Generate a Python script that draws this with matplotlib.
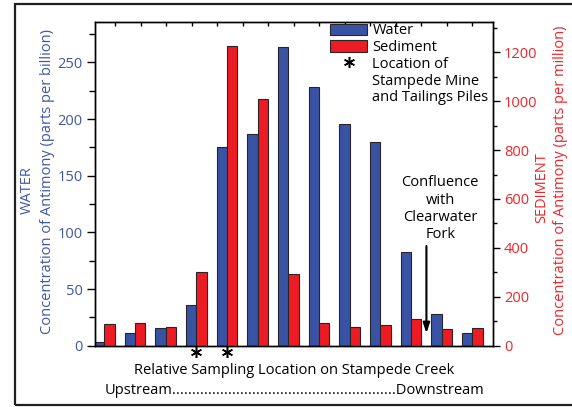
import numpy as np
import matplotlib
matplotlib.use("Agg")
import matplotlib.pyplot as plt
from matplotlib.patches import Patch, Rectangle
from matplotlib.lines import Line2D
import matplotlib.transforms as mtransforms

# ---- data ----
water = [3, 11, 16, 36, 175, 187, 264, 228, 196, 180, 83, 28, 11]          # ppb
sediment = [89, 94, 77, 301, 1227, 1009, 292, 93, 78, 86, 109, 67, 72]     # ppm
mine_sites = [3, 4]          # sampling locations marked with *
confluence_site = 10.5       # between locations 11 and 12
left_ticks = [0, 50, 100, 150, 200, 250]
right_ticks = [0, 200, 400, 600, 800, 1000, 1200]

BLUE = "#3953A4"
RED = "#ED1C24"
TBLUE = "#3F57A6"
TRED = "#EE2529"
EDGE = "#2A2426"

plt.rcParams['font.family'] = ['Open Sans', 'DejaVu Sans']
FS = 10.5

fig = plt.figure(figsize=(5.72, 4.07), dpi=100)
ax = fig.add_axes([95/572, 1-345.7/407, 398/572, 324/407])
ax2 = ax.twinx()

x = np.arange(len(water))
w = 0.336
ax.bar(x - w/2, water, width=w, color=BLUE, edgecolor=EDGE, linewidth=0.8, zorder=2)
ax2.bar(x + w/2, sediment, width=w, color=RED, edgecolor=EDGE, linewidth=0.8, zorder=2)

ax.set_xlim(-0.303, 12.67)
ax.set_ylim(0, 286)
ax2.set_ylim(0, 1325)

ax.set_yticks(left_ticks)
ax.set_yticks(np.arange(25, 286, 50), minor=True)
ax2.set_yticks(right_ticks)
ax2.set_yticks(np.arange(100, 1325, 200), minor=True)

ax.tick_params(axis='y', which='major', direction='out', length=6, width=1, labelsize=FS,
               labelcolor=TBLUE, pad=3)
ax.tick_params(axis='y', which='minor', direction='out', length=4, width=1)
ax2.tick_params(axis='y', which='major', direction='out', length=5, width=1, labelsize=FS,
                labelcolor=TRED, pad=3)
ax2.tick_params(axis='y', which='minor', direction='out', length=3, width=1)

ax.set_xticks(np.linspace(0.35, 12.0, 15))
ax.tick_params(axis='x', bottom=False, top=True, labelbottom=False, direction='in',
               length=3, width=1)
ax2.tick_params(axis='x', bottom=False, top=False, labelbottom=False)

for a in (ax, ax2):
    for s in a.spines.values():
        s.set_linewidth(1.0)
        s.set_color('black')

# asterisks marking the mine
trans = mtransforms.blended_transform_factory(ax.transData, ax.transAxes)
ax.plot(mine_sites, [-0.02] * len(mine_sites), linestyle='none', marker=(6, 2, 0),
        markersize=8, markeredgewidth=1.1, color='black', transform=trans, clip_on=False)

# confluence annotation
ax.annotate('', xy=(confluence_site, 11), xytext=(confluence_site, 88),
            arrowprops=dict(arrowstyle='-|>,head_length=0.6,head_width=0.2',
                            color='black', lw=1.5, shrinkA=0, shrinkB=0))
ax.text(10.95, 121, "Confluence\nwith\nClearwater\nFork", ha='center', va='center',
        fontsize=FS, linespacing=1.2)

# legend
blank = Line2D([], [], linestyle='none', marker='none')
handles = [Patch(facecolor=BLUE, edgecolor=EDGE, linewidth=0.8),
           Patch(facecolor=RED, edgecolor=EDGE, linewidth=0.8),
           Line2D([], [], linestyle='none', marker=(6, 2, 0), markersize=8,
                  markeredgewidth=1.1, color='black'),
           blank, blank]
labels = ["Water", "Sediment", "Location of", "Stampede Mine", "and Tailings Piles"]
ax2.legend(handles, labels, loc='upper left', bbox_to_anchor=((330-95)/398, 0.995),
           frameon=False, fontsize=FS, handlelength=2.55, handleheight=0.8,
           handletextpad=0.35, labelspacing=0.12, borderpad=0, borderaxespad=0)

# axis labels (each line as its own text)
fig.text(27.5/572, 1-190/407, "WATER", rotation=90, ha='center', va='center',
         color=TBLUE, fontsize=FS)
fig.text(47.5/572, 1-181/407, "Concentration of Antimony (parts per billion)",
         rotation=90, ha='center', va='center', color=TBLUE, fontsize=FS)
fig.text(542/572, 1-188/407, "SEDIMENT", rotation=90, ha='center', va='center',
         color=TRED, fontsize=FS)
fig.text(561/572, 1-180/407, "Concentration of Antimony (parts per million)",
         rotation=90, ha='center', va='center', color=TRED, fontsize=FS)
fig.text(294/572, 1-371/407, "Relative Sampling Location on Stampede Creek",
         ha='center', va='center', fontsize=FS)
fig.text(294/572, 1-391/407,
         "Upstream........................................................Downstream",
         ha='center', va='center', fontsize=FS)

# outer frame
fig.patches.append(Rectangle((15/572, 1-405/407), 1.0, (405-4)/407, transform=fig.transFigure,
                             fill=False, edgecolor='#231F20', linewidth=1.6, clip_on=False))

fig.savefig("out.png", dpi=100)
